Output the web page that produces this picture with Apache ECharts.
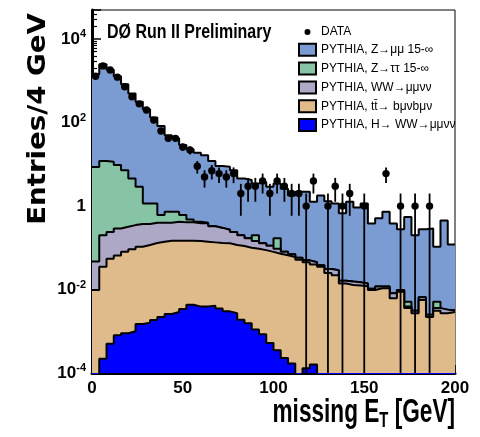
<!DOCTYPE html>
<html><head><meta charset="utf-8">
<script src="https://cdn.jsdelivr.net/npm/echarts@6/dist/echarts.min.js"></script>
<style>html,body{margin:0;padding:0;background:#fff}#c{width:480px;height:437px}</style>
</head><body><div id="c"></div>
<script>
// ---- data ----
const binLow = [0,4,8,12,16,20,24,28,32,36,40,44,48,52,56,60,64,68,72,76,80,84,88,92,96,100,104,108,112,116,120,124,128,132,136,140,144,148,152,156,160,164,168,172,176,180,184,188,192,196];
const binWidth = 4;
const dataCounts = [1290,2290,1820,1230,724,417,282,200,115,63,42,42,26,22,9,5,7,6,5,6,2,3,3,4,2,4,3,2,2,1,4,0,1,3,1,2,0,1,0,0,6,0,1,0,1,0,1,0,0,0];
// cumulative stacks (each drawn from the axis bottom, ROOT THStack style)
const zmumuStack = [1450,2500,1860,1290,830,500,316,208,132,83,50,42,29,23,19,16.6,12,9.1,8.8,7.2,4.6,4.2,3.5,3.8,2.9,3.5,2.6,1.8,2.2,2.2,1.27,1.8,1.3,1.16,0.67,1.27,0.93,1.16,0.385,0.51,0.73,0.385,0.28,0.55,0.2,0.28,0.29,0.106,0.45,0.12];
const ztautauStack = [8.7,12,11.5,9.6,7.2,4.6,2.9,1.16,1.16,0.61,0.73,0.73,0.61,0.48,0.42,0.4,0.33,0.3,0.27,0.24,0.2,0.17,0.2,0.128,0.112,0.17,0.08,0.07,0.058,0.05,0.045,0.038,0.031,0.029,0.0163,0.0155,0.015,0.014,0.0105,0.0118,0.0118,0.0081,0.0097,0.0051,0.0031,0.0065,0.0025,0.0051,0.0033,0.0032];
const wwStack = [0.047,0.2,0.24,0.29,0.32,0.35,0.37,0.37,0.4,0.4,0.4,0.42,0.41,0.41,0.39,0.39,0.33,0.3,0.27,0.24,0.2,0.17,0.145,0.128,0.112,0.095,0.08,0.07,0.058,0.05,0.045,0.038,0.031,0.029,0.0163,0.0155,0.015,0.014,0.0105,0.0118,0.0118,0.0081,0.0097,0.0039,0.0031,0.0065,0.0025,0.0036,0.0033,0.0032];
const ttbarStack = [0.0097,0.035,0.055,0.065,0.08,0.092,0.106,0.117,0.13,0.14,0.148,0.148,0.148,0.148,0.145,0.14,0.135,0.13,0.128,0.117,0.11,0.1,0.095,0.088,0.08,0.072,0.066,0.06,0.052,0.045,0.04,0.035,0.025,0.022,0.014,0.0128,0.0125,0.012,0.0097,0.0107,0.0107,0.0062,0.0089,0.0036,0.0027,0.0056,0.0022,0.0031,0.0027,0.0029];
const higgs = [0,2.2e-4,5e-4,8e-4,9e-4,1.0e-3,1.5e-3,1.6e-3,1.85e-3,2.2e-3,2.6e-3,2.9e-3,3.4e-3,4.3e-3,3.9e-3,3.9e-3,4.1e-3,3.5e-3,3.0e-3,2.7e-3,1.9e-3,1.55e-3,1.1e-3,8.5e-4,5.2e-4,3.5e-4,2.3e-4,1.7e-4,0,1.3e-4,1.6e-4,0,0,0,0,0,0,0,0,0,0,0,0,0,0,0,0,0,0,0];
const names = ['DATA','PYTHIA, Z\u2192\u03bc\u03bc 15-\u221e','PYTHIA, Z\u2192\u03c4\u03c4 15-\u221e','PYTHIA, WW\u2192\u03bc\u03bc\u03bd\u03bd','PYTHIA, tt\u0304\u2192 b\u03bc\u03bdb\u03bc\u03bd','PYTHIA, H\u2192 WW\u2192\u03bc\u03bc\u03bd\u03bd'];
const xMin = 0, xMax = 200, yMin = 1e-4, yMax = 5e4;

// ---- styles ----
const fills = ['#7b9bd3','#86c4a5','#aca8c6','#dfbb8b','#0000ff'];
const SANS = "'Liberation Sans',Arial,sans-serif";

function stepData(vals) {
  const pts = binLow.map((x, i) => [x, vals[i] > 0 ? vals[i] : 1e-7]);
  const last = vals[vals.length - 1];
  pts.push([xMax, last > 0 ? last : 1e-7]);
  return pts;
}
const stacks = [zmumuStack, ztautauStack, wwStack, ttbarStack, higgs];
const mcSeries = stacks.map((vals, k) => ({
  name: names[k + 1], type: 'line', step: 'end', data: stepData(vals),
  showSymbol: false, symbol: 'none', color: fills[k],
  lineStyle: { color: '#000', width: 2 },
  areaStyle: { color: fills[k], opacity: 1, origin: 'start' },
  clip: true, z: 2 + k
}));
const dataPts = binLow.map((x, i) => [x + binWidth / 2, dataCounts[i]]);
const dataSeries = {
  name: 'DATA', type: 'custom', data: dataPts, z: 10, clip: true,
  renderItem: function (params, api) {
    const n = api.value(1);
    if (!n) return null;
    const xc = api.value(0);
    const cs = params.coordSys;
    const bottom = cs.y + cs.height;
    const p = api.coord([xc, n]);
    const hi = api.coord([xc, n + Math.sqrt(n)]);
    const lv = n - Math.sqrt(n);
    const loY = lv > yMin ? api.coord([xc, lv])[1] : bottom;
    return { type: 'group', children: [
      { type: 'line', shape: { x1: p[0], y1: Math.max(hi[1], cs.y), x2: p[0], y2: Math.min(loY, bottom) }, style: { stroke: '#000', lineWidth: 1.8 } },
      { type: 'circle', shape: { cx: p[0], cy: p[1], r: 3.7 }, style: { fill: '#000' } }
    ]};
  }
};

const chart = echarts.init(document.getElementById('c'), null, { renderer: 'canvas' });
chart.setOption({
  animation: false,
  backgroundColor: '#fff',
  grid: { left: 92, right: 25, top: 10, bottom: 64, show: true, borderColor: '#000', borderWidth: 1, backgroundColor: 'transparent' },
  xAxis: {
    type: 'value', min: xMin, max: xMax, interval: 50,
    axisLine: { show: true, lineStyle: { color: '#000', width: 3 } },
    axisTick: { show: true, inside: true, length: 8, lineStyle: { color: '#000', width: 1.5 } },
    minorTick: { show: true, splitNumber: 5, length: 5, lineStyle: { color: '#000', width: 1.5 } },
    splitLine: { show: false },
    axisLabel: { color: '#000', fontFamily: SANS, fontWeight: 'bold', fontSize: 17, margin: 7 }
  },
  yAxis: {
    type: 'log', logBase: 10, min: yMin, max: yMax,
    axisLine: { show: true, lineStyle: { color: '#000', width: 3 } },
    axisTick: { show: true, inside: true, length: 9, lineStyle: { color: '#000', width: 1.5 } },
    minorTick: { show: true, splitNumber: 9, length: 5, lineStyle: { color: '#000', width: 1.2 } },
    splitLine: { show: false },
    axisLabel: {
      margin: 6,
      formatter: function (v) {
        const e = Math.round(Math.log10(v));
        if (Math.abs(Math.log10(v) - e) > 1e-6 || e % 2 !== 0) return '';
        if (e === 0) return '{b|1}';
        return '{b|10}{s|' + e + '}';
      },
      rich: {
        b: { color: '#000', fontFamily: SANS, fontWeight: 'bold', fontSize: 17 },
        s: { color: '#000', fontFamily: SANS, fontWeight: 'bold', fontSize: 11, padding: [0, 0, 10, 0] }
      }
    }
  },
  legend: {
    orient: 'vertical', left: 298, top: 26, padding: 0, itemWidth: 17, itemHeight: 12, itemGap: 4.8,
    selectedMode: false, icon: 'rect',
    itemStyle: { borderColor: '#000', borderWidth: 2 },
    textStyle: { fontFamily: SANS, fontSize: 12, color: '#000' },
    data: [
      { name: names[0], icon: 'path://M0,0L0.01,0M17,12L17.01,12M5.5,6A3,3 0 1,0 11.5,6A3,3 0 1,0 5.5,6Z', itemStyle: { color: '#000', borderWidth: 0 } },
      { name: names[1], itemStyle: { color: fills[0] } },
      { name: names[2], itemStyle: { color: fills[1] } },
      { name: names[3], itemStyle: { color: fills[2] } },
      { name: names[4], itemStyle: { color: fills[3] } },
      { name: names[5], itemStyle: { color: fills[4] } }
    ]
  },
  graphic: [
    { type: 'text', x: 107, y: 33, scaleX: 0.82, z: 20, style: { text: 'D\u00d8 Run II Preliminary', fontFamily: SANS, fontWeight: 'bold', fontSize: 19.5, fill: '#000', align: 'left', verticalAlign: 'middle' } },
    { type: 'text', x: 39, y: 119, rotation: Math.PI / 2, scaleX: 1.15, z: 20, style: { text: 'Entries/4 GeV', fontFamily: "'DejaVu Sans',sans-serif", fontWeight: 'bold', fontSize: 24, fill: '#000', align: 'center', verticalAlign: 'middle' } },
    { type: 'text', x: 455, y: 413, scaleX: 0.87, scaleY: 1.3, z: 20, style: {
      text: '{a|missing E}{t|T}{a| [GeV]}', align: 'right', verticalAlign: 'middle',
      rich: { a: { fontFamily: SANS, fontWeight: 'bold', fontSize: 26, fill: '#000' }, t: { fontFamily: SANS, fontWeight: 'bold', fontSize: 17, fill: '#000', padding: [12, 0, 0, 0] } } } }
  ],
  series: mcSeries.concat([dataSeries])
});
</script></body></html>
